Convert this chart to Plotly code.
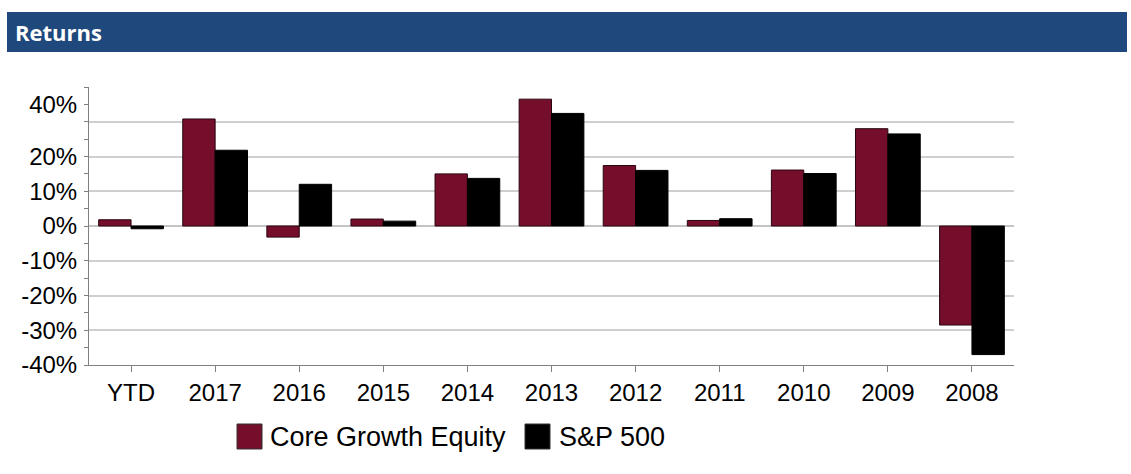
import plotly.graph_objects as go

categories = ["YTD", "2017", "2016", "2015", "2014", "2013", "2012", "2011", "2010", "2009", "2008"]
core_growth = [1.8, 30.8, -3.2, 2.0, 15.0, 36.5, 17.4, 1.6, 16.1, 28.0, -28.5]
sp500 = [-0.8, 21.8, 12.0, 1.4, 13.7, 32.4, 16.0, 2.1, 15.1, 26.5, -37.0]

series_names = ["Core Growth Equity", "S&P 500"]
series_colors = ["#740E2A", "#000000"]
series_lines = ["#2A0610", "#000000"]

y_tickvals = [-40, -30, -20, -10, 0, 10, 20, 30, 40]
y_ticktext = ["-40%", "-30%", "-20%", "-10%", "0%", "10%", "20%", "", ""]
top_label_val = [35]
top_label_text = ["40%"]

FONT = "Liberation Sans, Arial, sans-serif"

fig = go.Figure()
for name, vals, col, lc in zip(series_names, [core_growth, sp500], series_colors, series_lines):
    fig.add_trace(go.Bar(
        x=categories, y=vals, name=name,
        marker=dict(color=col, line=dict(color=lc, width=1)),
        showlegend=False,
    ))
# invisible helper trace so the overlay axis carrying the "40%" label is drawn
fig.add_trace(go.Scatter(x=categories, y=[None] * len(categories), yaxis="y2",
                         mode="lines", showlegend=False, hoverinfo="skip"))

L, T, H = 89, 87, 278
W = 925
def px(x):
    return (x - L) / W
def py(y):
    return (T + H - y) / H

shapes = []
annotations = []
# header bar
shapes.append(dict(type="rect", xref="paper", yref="paper",
                   x0=px(7), x1=px(1127), y0=py(52), y1=py(12),
                   fillcolor="#1F497D", line=dict(width=0), layer="below"))
annotations.append(dict(text="<b>Returns</b>", xref="paper", yref="paper",
                        x=px(13), y=py(32), xanchor="left", yanchor="middle",
                        showarrow=False,
                        font=dict(family="Open Sans, sans-serif", size=22, color="white")))

# manual legend (large squares)
legend_sq_x = [237, 525]
legend_txt_x = [268, 557]
for name, col, lc, sx, tx in zip(series_names, series_colors, series_lines, legend_sq_x, legend_txt_x):
    shapes.append(dict(type="rect", xref="paper", yref="paper",
                       x0=px(sx), x1=px(sx + 25), y0=py(449), y1=py(424),
                       fillcolor=col, line=dict(color="#333333", width=1)))
    annotations.append(dict(text=name, xref="paper", yref="paper",
                            x=px(tx), y=py(437), xanchor="left", yanchor="middle",
                            showarrow=False,
                            font=dict(family=FONT, size=27, color="black")))

fig.update_layout(
    width=1131, height=474,
    margin=dict(l=89, r=1131 - 89 - 925, t=87, b=474 - 87 - 278),
    paper_bgcolor="white", plot_bgcolor="white",
    barmode="group", bargap=0.23, bargroupgap=0,
    font=dict(family=FONT, size=24, color="black"),
    shapes=shapes, annotations=annotations,
    xaxis=dict(
        type="category", showline=True, linecolor="#808080", linewidth=1,
        ticks="outside", ticklen=6, tickcolor="#808080", showgrid=False,
        tickfont=dict(family=FONT, size=24, color="black"),
    ),
    yaxis=dict(
        range=[-40, 40], tickmode="array", tickvals=y_tickvals, ticktext=y_ticktext,
        showgrid=True, gridcolor="#CFCFCF", gridwidth=1.5,
        zeroline=True, zerolinecolor="#C4C4C4", zerolinewidth=1.5,
        showline=True, linecolor="#808080", linewidth=1,
        ticks="outside", ticklen=4, tickcolor="#808080",
        minor=dict(tickmode="linear", tick0=0, dtick=5, ticks="outside", ticklen=4,
                   tickcolor="#808080", showgrid=False),
        tickfont=dict(family=FONT, size=24, color="black"),
        ticklabelstandoff=2, fixedrange=True,
    ),
    yaxis2=dict(
        overlaying="y", side="left", range=[-40, 40], tickmode="array",
        tickvals=top_label_val, ticktext=top_label_text,
        showgrid=False, zeroline=False, showline=False,
        ticks="outside", ticklen=4, tickcolor="#808080",
        tickfont=dict(family=FONT, size=24, color="black"),
        ticklabelstandoff=2, fixedrange=True,
    ),
)

fig.write_html("out.html", config={"displayModeBar": False},
               post_script="document.body.style.margin='0';")
